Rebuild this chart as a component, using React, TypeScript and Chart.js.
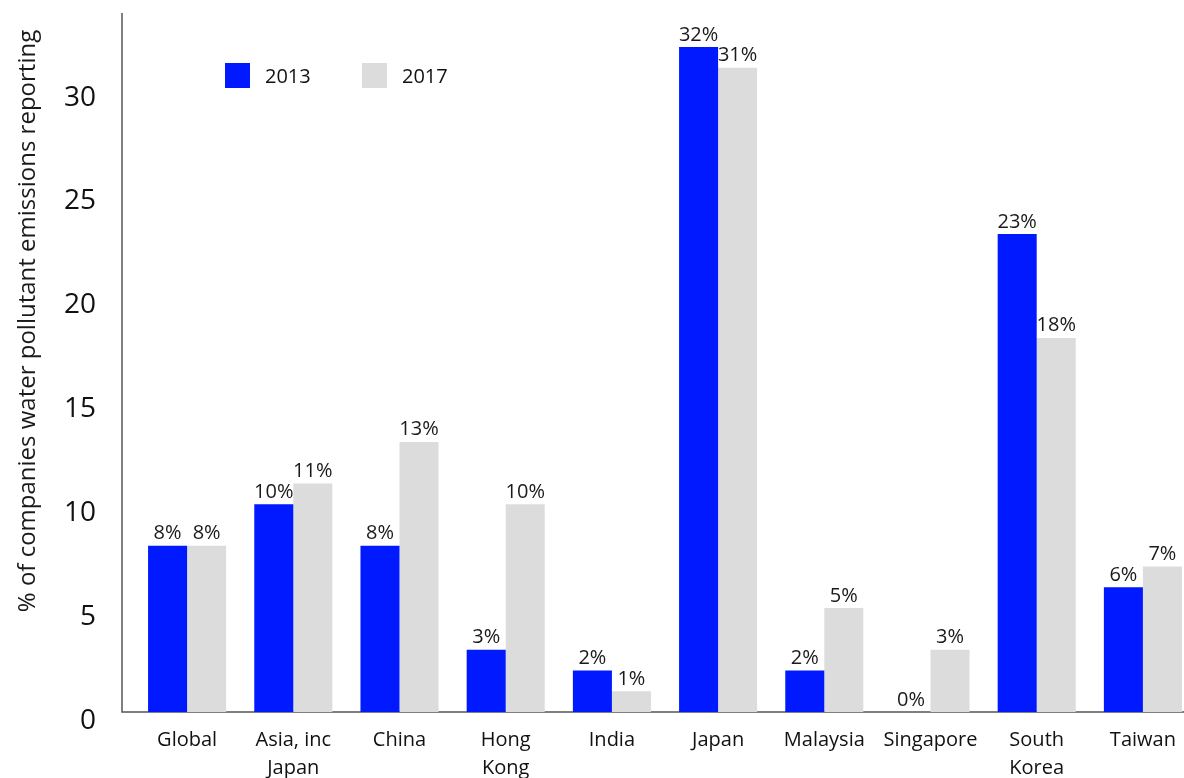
import React, { useEffect, useRef } from "react";
import { Chart, registerables } from "chart.js";

Chart.register(...registerables);

const categories: (string | string[])[] = [
  "Global",
  ["Asia, inc", "Japan"],
  "China",
  ["Hong", "Kong"],
  "India",
  "Japan",
  "Malaysia",
  "Singapore",
  ["South", "Korea"],
  "Taiwan",
];
const values2013 = [8, 10, 8, 3, 2, 32, 2, 0, 23, 6];
const values2017 = [8, 11, 13, 10, 1, 31, 5, 3, 18, 7];
const seriesNames = ["2013", "2017"];
const yTickValues = [0, 5, 10, 15, 20, 25, 30];
const yAxisTitle = "% of companies water pollutant emissions reporting";

const FONT = "'Open Sans', 'Noto Sans', sans-serif";
const BLUE = "#0019ff";
const GREY = "#dcdcdc";

const decorPlugin = {
  id: "decor",
  beforeDatasetsDraw(chart: any) {
    const { ctx, chartArea } = chart;
    ctx.save();
    ctx.strokeStyle = "#555555";
    ctx.lineWidth = 1.5;
    ctx.beginPath();
    const ax = chartArea.left - 12;
    ctx.moveTo(ax, chartArea.top);
    ctx.lineTo(ax, chartArea.bottom);
    ctx.lineTo(chart.width, chartArea.bottom);
    ctx.stroke();
    ctx.restore();
  },
  afterDatasetsDraw(chart: any) {
    const { ctx } = chart;
    ctx.save();
    // value labels
    ctx.font = `20px ${FONT}`;
    ctx.fillStyle = "#1a1a1a";
    ctx.textAlign = "center";
    ctx.textBaseline = "alphabetic";
    chart.data.datasets.forEach((ds: any, di: number) => {
      const meta = chart.getDatasetMeta(di);
      meta.data.forEach((bar: any, i: number) => {
        ctx.fillText(`${ds.data[i]}%`, bar.x, bar.y - 6.5);
      });
    });
    // legend
    const legendX = [225, 362];
    chart.data.datasets.forEach((ds: any, di: number) => {
      const x = legendX[di];
      ctx.fillStyle = ds.backgroundColor;
      ctx.fillRect(x, 63, 25, 25);
      ctx.fillStyle = "#111111";
      ctx.textAlign = "left";
      ctx.textBaseline = "middle";
      ctx.font = `20px ${FONT}`;
      ctx.fillText(ds.label, x + 40, 77);
    });
    // y title
    ctx.translate(28, 321);
    ctx.rotate(-Math.PI / 2);
    ctx.textAlign = "center";
    ctx.textBaseline = "middle";
    ctx.fillStyle = "#1a1a1a";
    ctx.font = `24px ${FONT}`;
    ctx.fillText(yAxisTitle, 0, 0);
    ctx.restore();
  },
};

export default function App() {
  const ref = useRef<HTMLCanvasElement>(null);
  useEffect(() => {
    if (!ref.current) return;
    const chart = new Chart(ref.current, {
      type: "bar",
      data: {
        labels: categories as any,
        datasets: [
          {
            label: seriesNames[0],
            data: values2013,
            backgroundColor: BLUE,
            categoryPercentage: 0.735,
            barPercentage: 1,
          },
          {
            label: seriesNames[1],
            data: values2017,
            backgroundColor: GREY,
            categoryPercentage: 0.735,
            barPercentage: 1,
          },
        ],
      },
      options: {
        responsive: false,
        animation: false,
        layout: { padding: { top: 13, right: 4, left: 0, bottom: 0 } },
        plugins: {
          legend: { display: false },
          tooltip: { enabled: false },
        },
        scales: {
          x: {
            grid: { display: false },
            border: { display: false },
            ticks: {
              font: { family: FONT, size: 20, lineHeight: 1.4 },
              color: "#111111",
              padding: 6,
              maxRotation: 0,
              autoSkip: false,
            },
            afterFit(scale: any) {
              scale.height = 88;
              scale.paddingLeft = 0;
              scale.paddingRight = 0;
            },
          },
          y: {
            min: 0,
            max: 33.64,
            grid: { display: false },
            border: { display: false },
            ticks: {
              font: { family: FONT, size: 28 },
              color: "#111111",
              padding: 30,
              labelOffset: 9,
            },
            afterBuildTicks(scale: any) {
              scale.ticks = yTickValues.map((v) => ({ value: v }));
            },
            afterFit(scale: any) {
              scale.width = 134;
              scale.paddingTop = 0;
              scale.paddingBottom = 0;
            },
          },
        },
      },
      plugins: [decorPlugin],
    });
    return () => chart.destroy();
  }, []);
  return (
    <div
      style={{
        position: "absolute",
        left: 0,
        top: 0,
        width: 1184,
        height: 778,
        overflow: "hidden",
        background: "#ffffff",
      }}
    >
      <canvas ref={ref} width={1200} height={800} style={{ display: "block" }} />
    </div>
  );
}
